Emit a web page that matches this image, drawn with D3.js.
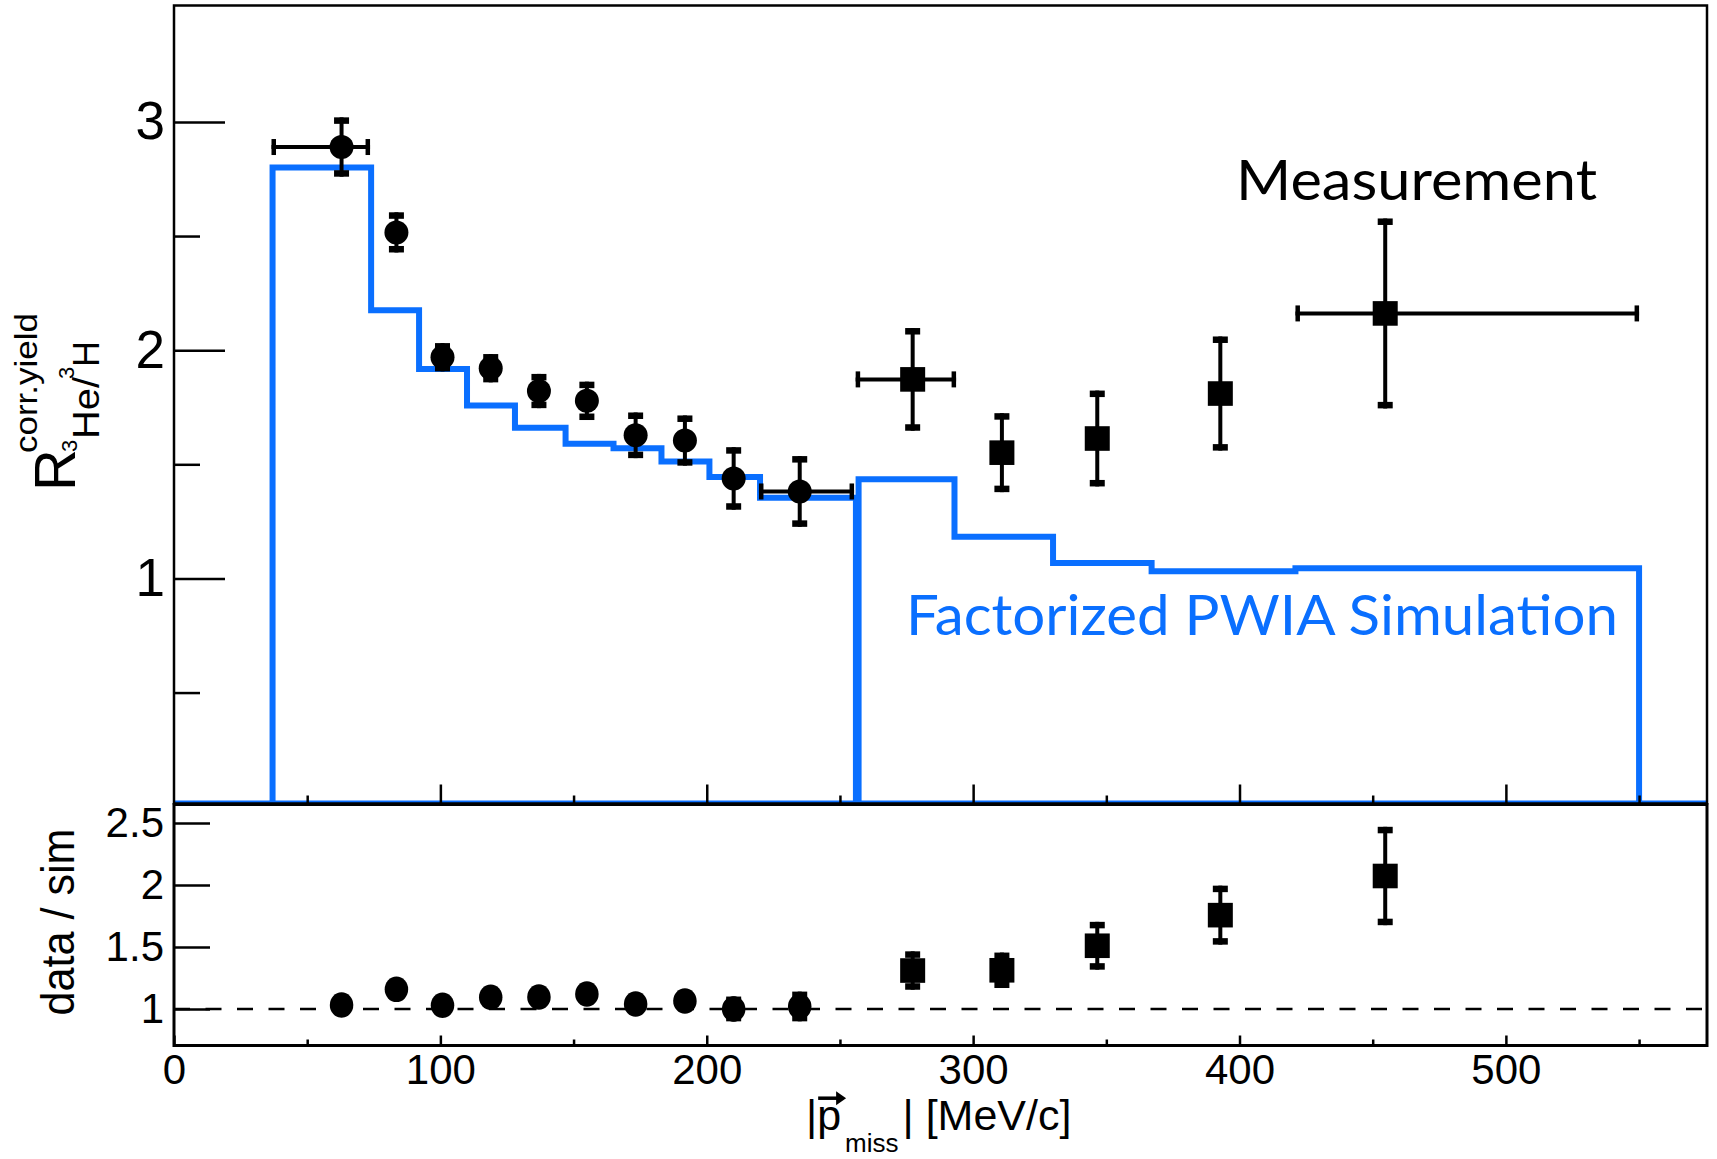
<!DOCTYPE html>
<html>
<head>
<meta charset="utf-8">
<script src="https://cdn.jsdelivr.net/npm/d3@7"></script>
<style>
  html, body { margin: 0; padding: 0; background: #fff; }
  svg { display: block; }
</style>
</head>
<body>
<svg id="chart" width="1717" height="1159"></svg>
<script>
// ---- Factorized PWIA simulation: two momentum ranges, bin edges (MeV/c) and ratio per bin
const simLowEdges   = [37, 74, 92, 110, 128, 147, 165, 183, 201, 220, 256];
const simLowValues  = [2.80, 2.175, 1.917, 1.758, 1.66, 1.59, 1.57, 1.512, 1.444, 1.354];
const simHighEdges  = [257, 293, 330, 367, 421, 550];
const simHighValues = [1.435, 1.183, 1.068, 1.031, 1.045];

// ---- Measured 3He/3H corrected-yield ratio
const pMiss     = [62.9, 83.5, 100.8, 118.9, 137.0, 155.0, 173.3, 191.8, 210.1, 234.9, 277.3, 310.8, 346.6, 392.8, 454.7];
const ratioData = [2.89, 2.516, 1.969, 1.921, 1.821, 1.778, 1.627, 1.604, 1.438, 1.381, 1.872, 1.551, 1.613, 1.81, 2.161];
const ratioErr  = [0.13, 0.088, 0.062, 0.062, 0.075, 0.084, 0.10, 0.11, 0.137, 0.155, 0.225, 0.173, 0.21, 0.25, 0.416];
// horizontal bin extent, drawn only for a few points
const pMissLow  = [36.6, null, null, null, null, null, null, null, null, 219.6, 255.9, null, null, null, 421.0];
const pMissHigh = [73.6, null, null, null, null, null, null, null, null, 255.3, 293.6, null, null, null, 550.0];
const markerShape = ["circle", "circle", "circle", "circle", "circle", "circle", "circle", "circle", "circle", "circle",
                     "square", "square", "square", "square", "square"];

// ---- data / sim
const dataOverSim    = [1.032, 1.158, 1.03, 1.094, 1.096, 1.12, 1.04, 1.065, 1.0, 1.02, 1.31, 1.312, 1.51, 1.757, 2.073];
const dataOverSimErr = [0.046, 0.04, 0.032, 0.035, 0.045, 0.053, 0.064, 0.073, 0.1, 0.12, 0.155, 0.143, 0.193, 0.238, 0.397];

// ---- axis ticks
const xMajorTicks    = [0, 100, 200, 300, 400, 500];
const xMinorTicks    = [50, 150, 250, 350, 450, 550];
const topYMajorTicks = [1, 2, 3];
const topYMinorTicks = [0.5, 1.5, 2.5];
const botYTicks      = [1, 1.5, 2, 2.5];

// ---- layout & style
const W = 1717, H = 1159;
const frameLeft = 174, frameRight = 1707;
const topPanel = { top: 5.5, bottom: 803.5 };
const botPanel = { top: 804.5, bottom: 1045.5 };
const BLUE = "#0a6fff";
const ROOT_FONT = "'Liberation Sans', Arial, Helvetica, sans-serif";
const NOTE_FONT = "Lato, 'Open Sans', sans-serif";

const x    = d3.scaleLinear().domain([0, 575.5]).range([frameLeft, frameRight]);
const yTop = d3.scaleLinear().domain([0.014, 3.51]).range([topPanel.bottom, topPanel.top]);
const yBot = d3.scaleLinear().domain([0.705, 2.65]).range([botPanel.bottom, botPanel.top]);

const svg = d3.select("#chart");
svg.append("rect").attr("width", W).attr("height", H).attr("fill", "#fff");

svg.append("defs").append("clipPath").attr("id", "clipTop")
  .append("rect")
  .attr("x", frameLeft).attr("y", topPanel.top)
  .attr("width", frameRight - frameLeft).attr("height", topPanel.bottom - topPanel.top);

// ---- simulation histograms (outline, closed down to the baseline)
const gHist = svg.append("g").attr("clip-path", "url(#clipTop)");
const base = yTop.domain()[0];
const line = d3.line().x(d => x(d[0])).y(d => yTop(d[1]));
function histOutline(edges, values) {
  const pts = [[edges[0], base]];
  values.forEach((v, i) => { pts.push([edges[i], v], [edges[i + 1], v]); });
  pts.push([edges[edges.length - 1], base]);
  return line(pts);
}
gHist.append("path")
  .attr("d", line([[x.domain()[0], base], [x.domain()[1], base]]))
  .attr("fill", "none").attr("stroke", BLUE).attr("stroke-width", 6);
[[simLowEdges, simLowValues], [simHighEdges, simHighValues]].forEach(([e, v]) => {
  gHist.append("path")
    .attr("d", histOutline(e, v))
    .attr("fill", "none").attr("stroke", BLUE).attr("stroke-width", 6)
    .attr("stroke-linejoin", "miter");
});

// ---- error bars and markers
function drawPoint(g, cx, cy, yHi, yLo, xL, xR, shape, mw, mh) {
  g.append("line").attr("x1", cx).attr("x2", cx).attr("y1", yHi).attr("y2", yLo)
    .attr("stroke", "#000").attr("stroke-width", 4);
  g.append("rect").attr("x", cx - 7.5).attr("y", yHi).attr("width", 15).attr("height", 6.5).attr("fill", "#000");
  g.append("rect").attr("x", cx - 7.5).attr("y", yLo - 6.5).attr("width", 15).attr("height", 6.5).attr("fill", "#000");
  if (xL != null) {
    g.append("line").attr("x1", xL).attr("x2", xR).attr("y1", cy).attr("y2", cy)
      .attr("stroke", "#000").attr("stroke-width", 4);
    g.append("rect").attr("x", xL).attr("y", cy - 8).attr("width", 4.5).attr("height", 16).attr("fill", "#000");
    g.append("rect").attr("x", xR - 4.5).attr("y", cy - 8).attr("width", 4.5).attr("height", 16).attr("fill", "#000");
  }
  if (shape === "circle") {
    g.append("ellipse").attr("cx", cx).attr("cy", cy).attr("rx", mw / 2).attr("ry", mh / 2).attr("fill", "#000");
  } else {
    g.append("rect").attr("x", cx - 12.5).attr("y", cy - 12.3).attr("width", 25).attr("height", 24.6).attr("fill", "#000");
  }
}

const gTopPts = svg.append("g");
pMiss.forEach((p, i) => {
  drawPoint(gTopPts, x(p), yTop(ratioData[i]),
    yTop(ratioData[i] + ratioErr[i]), yTop(ratioData[i] - ratioErr[i]),
    pMissLow[i] == null ? null : x(pMissLow[i]),
    pMissHigh[i] == null ? null : x(pMissHigh[i]),
    markerShape[i], 24, 24);
});

// ---- ratio panel
svg.append("line")
  .attr("x1", x(x.domain()[0])).attr("x2", x(x.domain()[1]))
  .attr("y1", yBot(1)).attr("y2", yBot(1))
  .attr("stroke", "#000").attr("stroke-width", 2.5).attr("stroke-dasharray", "16,15.5");

const gBotPts = svg.append("g");
pMiss.forEach((p, i) => {
  drawPoint(gBotPts, x(p), yBot(dataOverSim[i]),
    yBot(dataOverSim[i] + dataOverSimErr[i]), yBot(dataOverSim[i] - dataOverSimErr[i]),
    null, null, markerShape[i], 23.5, 25.5);
});

// ---- frames
svg.append("rect")
  .attr("x", frameLeft).attr("y", topPanel.top)
  .attr("width", frameRight - frameLeft).attr("height", topPanel.bottom - topPanel.top)
  .attr("fill", "none").attr("stroke", "#000").attr("stroke-width", 2.5);
svg.append("rect")
  .attr("x", frameLeft).attr("y", botPanel.top)
  .attr("width", frameRight - frameLeft).attr("height", botPanel.bottom - botPanel.top)
  .attr("fill", "none").attr("stroke", "#000").attr("stroke-width", 3);

// ---- axes
function styleAxis(g, fontSize) {
  g.select(".domain").remove();
  g.selectAll(".tick line").attr("stroke", "#000").attr("stroke-width", 2.5);
  g.attr("font-family", ROOT_FONT).attr("font-size", fontSize);
  g.selectAll(".tick text").attr("fill", "#000");
}

// top panel, y
svg.append("g").attr("transform", `translate(${frameLeft},0)`)
  .call(d3.axisLeft(yTop).tickValues(topYMajorTicks).tickSizeInner(-51).tickSizeOuter(0)
    .tickPadding(9).tickFormat(d3.format("d")))
  .call(g => styleAxis(g, 53));
svg.append("g").attr("transform", `translate(${frameLeft},0)`)
  .call(d3.axisLeft(yTop).tickValues(topYMinorTicks).tickSizeInner(-26).tickSizeOuter(0).tickFormat(""))
  .call(g => styleAxis(g, 10));

// top panel, x (ticks only)
svg.append("g").attr("transform", `translate(0,${topPanel.bottom})`)
  .call(d3.axisBottom(x).tickValues(xMajorTicks.slice(1)).tickSizeInner(-19).tickSizeOuter(0).tickFormat(""))
  .call(g => styleAxis(g, 10));
svg.append("g").attr("transform", `translate(0,${topPanel.bottom})`)
  .call(d3.axisBottom(x).tickValues(xMinorTicks).tickSizeInner(-8).tickSizeOuter(0).tickFormat(""))
  .call(g => styleAxis(g, 10));

// ratio panel, x
svg.append("g").attr("transform", `translate(0,${botPanel.bottom})`)
  .call(d3.axisBottom(x).tickValues(xMajorTicks).tickSizeInner(-10).tickSizeOuter(0)
    .tickPadding(9).tickFormat(d3.format("d")))
  .call(g => styleAxis(g, 42));
svg.append("g").attr("transform", `translate(0,${botPanel.bottom})`)
  .call(d3.axisBottom(x).tickValues(xMinorTicks).tickSizeInner(-6).tickSizeOuter(0).tickFormat(""))
  .call(g => styleAxis(g, 10));

// ratio panel, y
svg.append("g").attr("transform", `translate(${frameLeft},0)`)
  .call(d3.axisLeft(yBot).tickValues(botYTicks).tickSizeInner(-36).tickSizeOuter(0)
    .tickPadding(10).tickFormat(d3.format("~g")))
  .call(g => styleAxis(g, 42));

// ---- axis titles
// R^{corr.yield}_{3He/3H}, rotated
const yt = svg.append("g").attr("transform", "translate(75,491) rotate(-90)")
  .attr("font-family", ROOT_FONT).attr("fill", "#000");
yt.append("text").attr("x", 0).attr("y", 0).attr("font-size", 58).text("R");
yt.append("text").attr("x", 38).attr("y", -38).attr("font-size", 32)
  .attr("textLength", 140).attr("lengthAdjust", "spacingAndGlyphs").text("corr.yield");
yt.append("text").attr("x", 39).attr("y", 2).attr("font-size", 22).text("3");
yt.append("text").attr("x", 52).attr("y", 24).attr("font-size", 36)
  .attr("textLength", 62).attr("lengthAdjust", "spacingAndGlyphs").text("He/");
yt.append("text").attr("x", 112).attr("y", -1).attr("font-size", 22).text("3");
yt.append("text").attr("x", 124).attr("y", 24).attr("font-size", 36).text("H");

svg.append("text")
  .attr("transform", "translate(74,922) rotate(-90)")
  .attr("text-anchor", "middle").attr("font-family", ROOT_FONT).attr("font-size", 47)
  .attr("textLength", 187).attr("lengthAdjust", "spacingAndGlyphs")
  .text("data / sim");

// |p_miss| [MeV/c]
const xt = svg.append("text").attr("x", 806).attr("y", 1130)
  .attr("font-family", ROOT_FONT).attr("font-size", 43).attr("fill", "#000");
xt.append("tspan").text("|p");
xt.append("tspan").attr("font-size", 26).attr("dy", 22).attr("dx", 4).text("miss");
xt.append("tspan").attr("dy", -22).attr("dx", 4).text("| [MeV/c]");
const pBox = xt.node().getExtentOfChar(1);
const ax = pBox.x + 1, aw = pBox.width + 4, ay = pBox.y + 0.15 * pBox.height;
svg.append("line").attr("x1", ax).attr("x2", ax + aw - 8).attr("y1", ay).attr("y2", ay)
  .attr("stroke", "#000").attr("stroke-width", 3.5);
svg.append("path")
  .attr("d", `M${ax + aw - 10},${ay - 7} L${ax + aw},${ay} L${ax + aw - 10},${ay + 7} Z`)
  .attr("fill", "#000");

// ---- annotations
svg.append("text").attr("x", 1236).attr("y", 200)
  .attr("font-family", NOTE_FONT).attr("font-size", 57).attr("fill", "#000")
  .attr("textLength", 361).attr("lengthAdjust", "spacingAndGlyphs")
  .text("Measurement");
svg.append("text").attr("x", 906).attr("y", 635)
  .attr("font-family", NOTE_FONT).attr("font-size", 56).attr("fill", BLUE)
  .attr("textLength", 712).attr("lengthAdjust", "spacingAndGlyphs")
  .text("Factorized PWIA Simulation");
</script>
</body>
</html>
